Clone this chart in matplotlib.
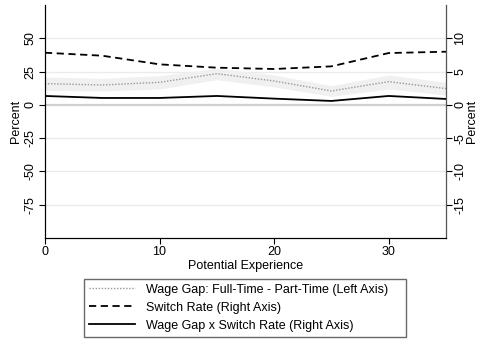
import matplotlib
matplotlib.use("Agg")
import matplotlib.pyplot as plt
from matplotlib.lines import Line2D

plt.rcParams['font.family'] = ['Liberation Sans', 'DejaVu Sans']
plt.rcParams['font.size'] = 9

# data
experience = [0, 5, 10, 15, 20, 25, 30, 35]
wage_gap = [16, 15, 17, 23.5, 18, 10.5, 17.5, 12.3]          # left axis
wage_gap_lo = [11, 10.5, 12, 19, 13.5, 6.5, 12, 7.5]
wage_gap_hi = [21, 20, 22, 27.5, 22.5, 14.5, 22.5, 17]
switch_rate = [7.85, 7.4, 6.1, 5.6, 5.4, 5.8, 7.8, 8.0]        # right axis
gap_x_switch = [1.35, 1.05, 1.05, 1.35, 0.95, 0.6, 1.35, 0.9]  # right axis

fig = plt.figure(figsize=(4.78, 3.42), dpi=100)
ax = fig.add_axes([0.094, 0.304, 0.839, 0.681])
ax2 = ax.twinx()

# grid lines like stata
for yv in [50, 25, -25, -50, -75]:
    ax.axhline(yv, color="#ebebeb", lw=1, zorder=0)
ax.axhline(0, color="#d0d0d0", lw=1.6, zorder=0)

ax.fill_between(experience, wage_gap_lo, wage_gap_hi, color="#f0f0f0", lw=0, zorder=1)
ax.plot(experience, wage_gap, color="#999999", ls=(0, (1, 1.2)), lw=1.0, zorder=2)
ax2.plot(experience, switch_rate, color="black", ls=(0, (4, 2.5)), lw=1.3)
ax2.plot(experience, gap_x_switch, color="black", lw=1.3)

ax.set_xlim(0, 35)
ax.set_ylim(-100, 75)
ax2.set_ylim(-20, 15)
ax.set_xticks([0, 10, 20, 30])
ax.set_yticks([-75, -50, -25, 0, 25, 50])
ax2.set_yticks([-15, -10, -5, 0, 5, 10])
ax.set_yticklabels(["-75", "-50", "-25", "0", "25", "50"], rotation=90, va="center")
ax2.set_yticklabels(["-15", "-10", "-5", "0", "5", "10"], rotation=90, va="center")
ax.set_xlabel("Potential Experience", labelpad=1)
ax.set_ylabel("Percent", labelpad=2)
ax2.set_ylabel("Percent", labelpad=0)

for a in (ax, ax2):
    a.spines["top"].set_visible(False)
    a.tick_params(length=4, width=0.8, pad=2)
ax2.spines["right"].set_color("#555555")

handles = [
    Line2D([], [], color="#999999", ls=(0, (1, 1.2)), lw=1.0),
    Line2D([], [], color="black", ls=(0, (4, 2.5)), lw=1.3),
    Line2D([], [], color="black", lw=1.3),
]
labels = [
    "Wage Gap: Full-Time - Part-Time (Left Axis)",
    "Switch Rate (Right Axis)",
    "Wage Gap x Switch Rate (Right Axis)",
]
leg = fig.legend(handles, labels, loc="upper left", mode="expand",
                 bbox_to_anchor=(84 / 478, 0.0, 322 / 478, 1 - 278.5 / 342),
                 frameon=True, fancybox=False, edgecolor="#444444", handlelength=3.7,
                 handletextpad=0.9, borderpad=0.4, labelspacing=0.49, borderaxespad=0)
leg.get_frame().set_linewidth(1.0)

fig.savefig("out.png", dpi=100)
